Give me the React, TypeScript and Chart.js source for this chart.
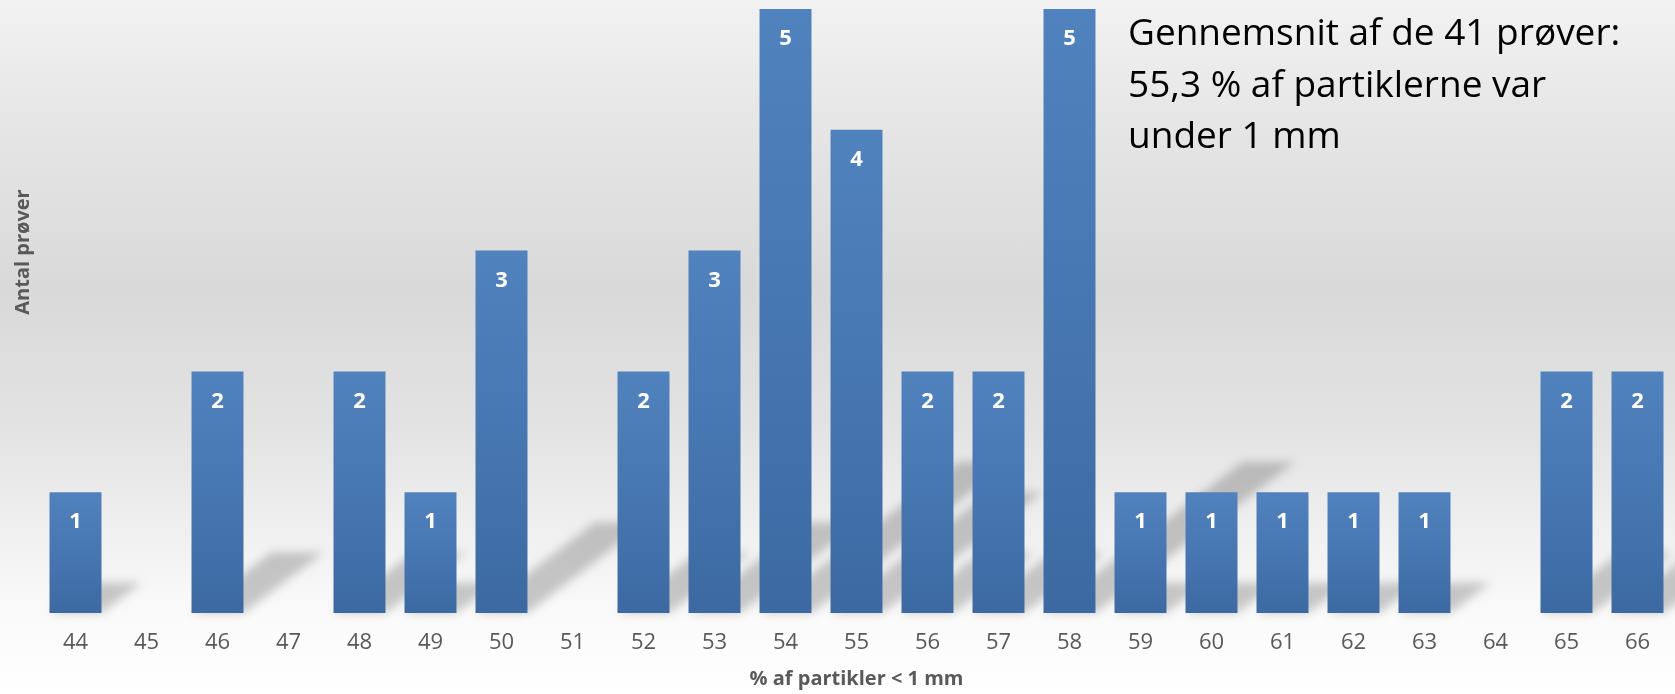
import React, { useEffect, useRef } from "react";
import { Chart, registerables } from "chart.js";

Chart.register(...registerables);

// ---- data ----
const categories = ["44", "45", "46", "47", "48", "49", "50", "51", "52", "53", "54", "55", "56", "57", "58", "59", "60", "61", "62", "63", "64", "65", "66"];
const counts = [1, 0, 2, 0, 2, 1, 3, 0, 2, 3, 5, 4, 2, 2, 5, 1, 1, 1, 1, 1, 0, 2, 2];
const yMin = 0;
const yMax = 5;
const xTitle = "% af partikler < 1 mm";
const yTitle = "Antal prøver";
const noteLines = ["Gennemsnit af de 41 prøver:", "55,3 % af partiklerne var", "under 1 mm"];

const FONT = "'Open Sans', 'Noto Sans', sans-serif";
const GREY = "#595959";

const shadowPlugin = {
  id: "perspectiveShadow",
  beforeDatasetsDraw(chart: any) {
    const ctx = chart.ctx;
    const meta = chart.getDatasetMeta(0);
    ctx.save();
    ctx.filter = "blur(5px)";
    ctx.fillStyle = "rgba(0,0,0,0.2)";
    ctx.beginPath();
    meta.data.forEach((bar: any) => {
      const { x, y, base, width } = bar.getProps(["x", "y", "base", "width"], true);
      const h = base - y;
      if (!(h > 0)) return;
      const dx = h * 0.33;
      const dy = h * 0.25;
      const x0 = x - width / 2;
      const x1 = x + width / 2;
      ctx.moveTo(x0, base);
      ctx.lineTo(x1, base);
      ctx.lineTo(x1 + dx, base - dy);
      ctx.lineTo(x0 + dx, base - dy);
      ctx.closePath();
    });
    ctx.fill();
    ctx.restore();
  },
};

const valueLabelPlugin = {
  id: "valueLabels",
  afterDatasetsDraw(chart: any) {
    const ctx = chart.ctx;
    const meta = chart.getDatasetMeta(0);
    const data = chart.data.datasets[0].data as number[];
    ctx.save();
    ctx.font = `bold 22px ${FONT}`;
    ctx.fillStyle = "#ffffff";
    ctx.textAlign = "center";
    ctx.textBaseline = "middle";
    meta.data.forEach((bar: any, i: number) => {
      const v = data[i];
      if (!v) return;
      const { x, y } = bar.getProps(["x", "y"], true);
      ctx.fillText(String(v), x, y + 30);
    });
    ctx.restore();
  },
};

const yTitlePlugin = {
  id: "yTitleText",
  afterDraw(chart: any) {
    const ctx = chart.ctx;
    ctx.save();
    ctx.translate(23, 252);
    ctx.rotate(-Math.PI / 2);
    ctx.font = `bold 20px ${FONT}`;
    ctx.fillStyle = GREY;
    ctx.textAlign = "center";
    ctx.textBaseline = "middle";
    ctx.fillText(yTitle, 0, 0);
    ctx.restore();
  },
};

export default function App() {
  const canvasRef = useRef<HTMLCanvasElement | null>(null);

  useEffect(() => {
    document.body.style.margin = "0";
    const canvas = canvasRef.current;
    if (!canvas) return;
    const chart = new Chart(canvas, {
      type: "bar",
      data: {
        labels: categories,
        datasets: [
          {
            data: counts,
            backgroundColor: (c: any) => {
              const ch = c.chart;
              if (!ch.chartArea || c.type !== "data" || !c.parsed) return "#4676b0";
              const ys = ch.scales.y;
              const top = ys.getPixelForValue(c.parsed.y);
              const base = ys.getPixelForValue(0);
              if (!(base > top)) return "#4676b0";
              const g = ch.ctx.createLinearGradient(0, top, 0, base);
              g.addColorStop(0, "#5082be");
              g.addColorStop(0.45, "#4878b3");
              g.addColorStop(1, "#3c69a2");
              return g;
            },
            borderWidth: 0,
            categoryPercentage: 1,
            barPercentage: 0.732,
          },
        ],
      },
      options: {
        animation: false,
        responsive: false,
        devicePixelRatio: 1,
        layout: { padding: { left: 40, right: 2, top: 9, bottom: 0 } },
        plugins: {
          legend: { display: false },
          tooltip: { enabled: false },
        },
        scales: {
          x: {
            type: "category",
            offset: true,
            grid: { display: false, drawTicks: false },
            border: { display: false },
            ticks: {
              color: GREY,
              font: { family: FONT, size: 22 },
              padding: 17,
              maxRotation: 0,
              autoSkip: false,
            },
            title: {
              display: true,
              text: xTitle,
              color: GREY,
              font: { family: FONT, size: 20, weight: "bold" },
              padding: { top: 0, bottom: 2.5 },
            },
            afterFit: (scale: any) => {
              scale.height = 81;
            },
          },
          y: {
            display: false,
            min: yMin,
            max: yMax,
          },
        },
      },
      plugins: [shadowPlugin, valueLabelPlugin, yTitlePlugin],
    } as any);
    return () => chart.destroy();
  }, []);

  return (
    <div
      style={{
        position: "relative",
        width: 1675,
        height: 694,
        overflow: "hidden",
        background:
          "linear-gradient(to bottom, #f2f2f2 0px, #e6e6e6 120px, #d9d9d9 290px, #e3e3e3 430px, #f3f3f3 560px, #fafafa 615px, #ffffff 694px)",
      }}
    >
      <canvas ref={canvasRef} width={1675} height={694} style={{ position: "absolute", left: 0, top: 0 }} />
      <div
        style={{
          position: "absolute",
          left: 1128,
          top: 5,
          fontFamily: FONT,
          fontSize: 37,
          lineHeight: "51.5px",
          color: "#000000",
          whiteSpace: "nowrap",
        }}
      >
        {noteLines.map((t, i) => (
          <div key={i}>{t}</div>
        ))}
      </div>
    </div>
  );
}
